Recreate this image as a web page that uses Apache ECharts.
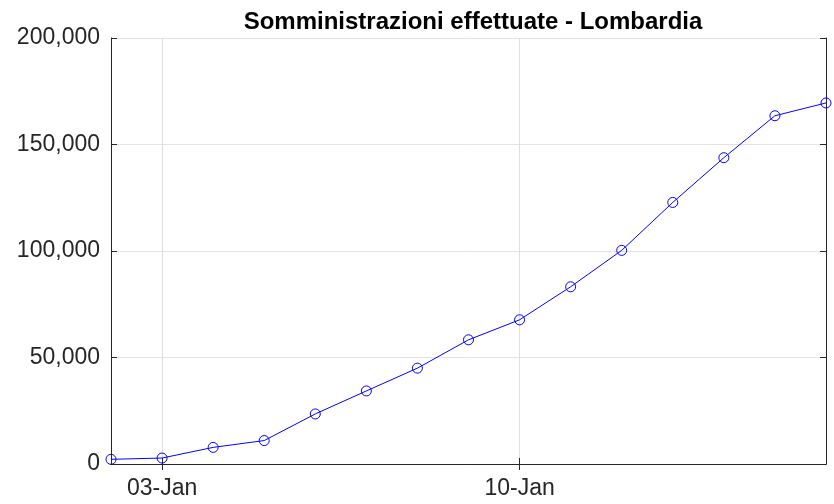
<!DOCTYPE html>
<html>
  <head>
    <meta charset="utf-8" />
    <title>Somministrazioni effettuate - Lombardia</title>
    <script src="https://cdn.jsdelivr.net/npm/echarts@6/dist/echarts.min.js"></script>
    <style>
      body { margin: 0; background: #fff; }
      #chart { width: 834px; height: 504px; }
    </style>
  </head>
  <body>
    <div id="chart"></div>
    <script>
      // days shown on the x axis
      var days = ['02-Jan', '03-Jan', '04-Jan', '05-Jan', '06-Jan', '07-Jan', '08-Jan', '09-Jan',
                  '10-Jan', '11-Jan', '12-Jan', '13-Jan', '14-Jan', '15-Jan', '16-Jan'];
      // cumulative doses administered
      var doses = [2200, 2800, 7800, 11000, 23500, 34300, 45000, 58300,
                   67700, 83200, 100300, 122800, 143800, 163500, 169500];
      // only these day labels get a tick / grid line
      var tickDays = ['03-Jan', '10-Jan'];
      var yTicks = [0, 50000, 100000, 150000, 200000];

      var font = 'Liberation Sans, Arial, Helvetica, sans-serif';
      var axisColor = '#262626';

      function showTick(i, v) { return tickDays.indexOf(v) >= 0; }
      function thousands(v) { return String(v).replace(/\B(?=(\d{3})+(?!\d))/g, ','); }

      var chart = echarts.init(document.getElementById('chart'));
      var option = {
        animation: false,
        title: {
          text: 'Somministrazioni effettuate - Lombardia',
          left: 468, top: 5, textAlign: 'center',
          textStyle: { fontFamily: font, fontSize: 24, fontWeight: 'bold', color: '#000' }
        },
        grid: { left: 111, right: 8, top: 38, bottom: 40 },
        xAxis: [
          {
            type: 'category', data: days, boundaryGap: false,
            axisLine: { lineStyle: { color: axisColor, width: 1 } },
            axisTick: { inside: true, length: 6, interval: showTick, lineStyle: { color: axisColor } },
            axisLabel: { interval: showTick, margin: 13, fontFamily: font, fontSize: 23, color: axisColor },
            splitLine: { show: true, interval: showTick, lineStyle: { color: '#dfdfdf', width: 1 } }
          },
          {
            type: 'category', data: days, boundaryGap: false, position: 'top',
            axisLine: { lineStyle: { color: axisColor, width: 1 } },
            axisTick: { inside: true, length: 6, interval: showTick, lineStyle: { color: axisColor } },
            axisLabel: { show: false },
            splitLine: { show: false }
          }
        ],
        yAxis: [
          {
            type: 'value', min: yTicks[0], max: yTicks[yTicks.length - 1], interval: 50000,
            axisLine: { show: true, lineStyle: { color: axisColor, width: 1 } },
            axisTick: { show: true, inside: true, length: 6, lineStyle: { color: axisColor } },
            axisLabel: { margin: 11, fontFamily: font, fontSize: 23, color: axisColor, formatter: thousands,
                         padding: [3, 0, 0, 0] },
            splitLine: { show: true, lineStyle: { color: '#e3e3e3', width: 1 } }
          },
          {
            type: 'value', min: yTicks[0], max: yTicks[yTicks.length - 1], interval: 50000, position: 'right',
            axisLine: { show: true, lineStyle: { color: axisColor, width: 1 } },
            axisTick: { show: true, inside: true, length: 6, lineStyle: { color: axisColor } },
            axisLabel: { show: false },
            splitLine: { show: false }
          }
        ],
        series: [
          {
            type: 'line', data: doses, xAxisIndex: 0, yAxisIndex: 0,
            symbol: 'circle', symbolSize: 10, showAllSymbol: true,
            lineStyle: { color: '#0000ff', width: 1 },
            itemStyle: { color: 'rgba(255,255,255,0)', borderColor: '#0000ff', borderWidth: 1 },
            emphasis: { disabled: true }
          }
        ]
      };
      chart.setOption(option);
    </script>
  </body>
</html>
